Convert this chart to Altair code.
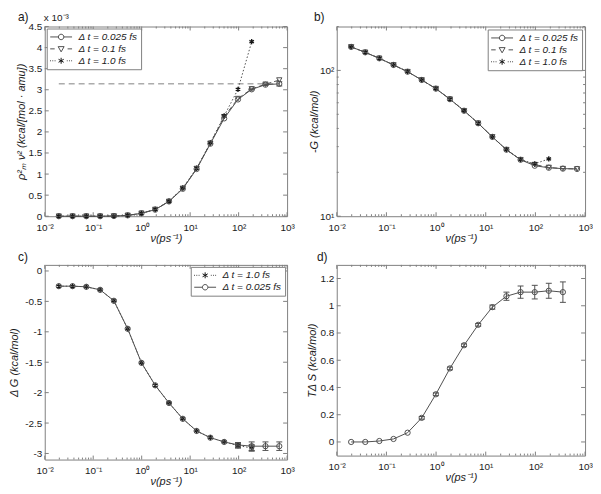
import altair as alt
import pandas as pd

# ---------------- data ----------------
nu = [0.0195, 0.0375, 0.072, 0.139, 0.267, 0.514, 0.99, 1.9, 3.66, 7.05,
      13.6, 26.1, 50.3, 97, 186, 358, 690]

# a) rho_m^2 nu^2  (x 1e-3)
a_circ = [0, 0, 0, 0, 0.005, 0.02, 0.07, 0.155, 0.35, 0.65, 1.12, 1.72, 2.32, 2.77, 3.01, 3.12, 3.14]
a_circ_err = [0, 0, 0, 0, 0, 0, 0, 0, 0, 0, 0, 0, 0, 0, 0.01, 0.02, 0.05]
a_tri = [0, 0, 0, 0, 0.005, 0.02, 0.07, 0.16, 0.35, 0.66, 1.13, 1.73, 2.36, 2.79, 3.02, 3.13, 3.23]
a_star = [0, 0, 0, 0, 0.005, 0.02, 0.07, 0.16, 0.36, 0.67, 1.14, 1.74, 2.38, 3.01, 4.14]
a_ref = 3.14

# b) -G
b_circ = [145, 133, 121, 109, 98, 86, 75, 63.5, 52.9, 43.4, 35.0, 28.6, 24.4, 22.2, 21.5, 21.2, 21.1]
b_tri = [145, 133, 121, 109, 98, 86, 75, 63.5, 52.9, 43.4, 35.0, 28.6, 24.4, 22.6, 21.6, 21.2, 21.1]
b_star = [145, 133, 121, 109, 98, 86, 75, 63.5, 52.9, 43.4, 35.0, 28.6, 24.4, 22.9, 24.7]

# c) Delta G
c_circ = [-0.25, -0.25, -0.26, -0.31, -0.49, -0.95, -1.51, -1.88, -2.17, -2.43, -2.63, -2.74,
          -2.81, -2.86, -2.88, -2.88, -2.88]
c_circ_err = [0, 0, 0, 0, 0, 0, 0, 0, 0, 0, 0, 0, 0, 0.04, 0.07, 0.07, 0.07]
c_star = [-0.25, -0.25, -0.26, -0.31, -0.49, -0.95, -1.51, -1.88, -2.17, -2.43, -2.63, -2.74,
          -2.81, -2.87, -2.91]
c_star_err = [0, 0, 0, 0, 0, 0, 0, 0, 0, 0, 0, 0, 0, 0.04, 0.05]

# d) T Delta S
d_circ = [0, 0, 0.007, 0.022, 0.068, 0.177, 0.35, 0.54, 0.71, 0.86, 0.99, 1.07, 1.10, 1.10, 1.11, 1.10]
d_circ_err = [0, 0, 0, 0, 0, 0.01, 0.01, 0.01, 0.01, 0.01, 0.015, 0.03, 0.045, 0.05, 0.055, 0.075]

lab025 = "Δ t = 0.025 fs"
lab01 = "Δ t = 0.1 fs"
lab10 = "Δ t = 1.0 fs"

# ---------------- styles ----------------
FR = "#808080"
LC = "#505050"
SC = "#141414"
TXT = "#1a1a1a"
STAR = "M0,-1L0,1M-0.87,-0.5L0.87,0.5M-0.87,0.5L0.87,-0.5"

LEG_CIRC = "M-1,0L0.65,0M1.75,0L3.4,0M0.65,0A0.55,0.55,0,1,0,1.75,0A0.55,0.55,0,1,0,0.65,0"
LEG_TRI = "M-1,0L-0.1,0M2.5,0L3.4,0M0.6,-0.45L1.8,-0.45L1.2,0.6Z"
LEG_STAR = ("M-1,0L-0.85,0M-0.55,0L-0.4,0M-0.1,0L0.05,0M2.35,0L2.5,0M2.8,0L2.95,0M3.25,0L3.4,0"
            "M1.2,-0.6L1.2,0.6M0.68,-0.3L1.72,0.3M0.68,0.3L1.72,-0.3")

X_MAJOR = [0.01, 0.1, 1, 10, 100, 1000]
X_MINOR = [m * 10.0 ** k for k in range(-2, 3) for m in range(2, 10)]

XLAB = ("datum.value < 0.05 ? '10⁻²' : datum.value < 0.5 ? '10⁻¹' : datum.value < 5 ? '10⁰' : "
        "datum.value < 50 ? '10¹' : datum.value < 500 ? '10²' : '10³'")

XS = alt.Scale(type="log", domain=[0.01, 1000], nice=False)
XAX = alt.Axis(values=X_MAJOR, labelExpr=XLAB, ticks=False, domain=False, grid=False,
               labelFlush=False, labelOverlap=False, labelPadding=6, labelFontSize=10,
               labelColor=TXT, title="ν(ps⁻¹)", titleFontSize=11, titleFontWeight="normal",
               titleFontStyle="italic", titleColor=TXT, titlePadding=0)


def xe(f):
    return alt.X(f"{f}:Q", scale=XS, axis=XAX)


def make_yaxis(values, title, ext, tpad, fmt=None, expr=None):
    kw = dict(values=values, ticks=False, domain=False, grid=False, labelPadding=3,
              labelFontSize=10, labelColor=TXT, labelOverlap=False, minExtent=ext, maxExtent=ext,
              title=title, titleFontSize=11, titleFontWeight="normal", titleFontStyle="italic",
              titleColor=TXT, titlePadding=tpad)
    if fmt:
        kw["format"] = fmt
    if expr:
        kw["labelExpr"] = expr
    return alt.Axis(**kw)


def series(xs, ys, kind, ye):
    df = pd.DataFrame({"x": xs[:len(ys)], "y": ys})
    base = alt.Chart(df).encode(x=xe("x"), y=ye("y"))
    if kind == "circ":
        return [base.mark_line(color=LC, strokeWidth=1),
                base.mark_point(shape="circle", filled=False, size=28, color=LC, strokeWidth=1, opacity=1)]
    if kind == "tri":
        return [base.mark_line(color=LC, strokeWidth=1, strokeDash=[5, 3]),
                base.mark_point(shape="triangle-down", filled=False, size=28, color=LC, strokeWidth=1, opacity=1)]
    if kind == "star":
        return [base.mark_line(color=LC, strokeWidth=1, strokeDash=[1.5, 2]),
                base.mark_point(shape=STAR, filled=False, size=28, color=SC, strokeWidth=1.3, opacity=1)]
    if kind == "ref":
        return [base.mark_line(color=FR, strokeWidth=1, strokeDash=[6, 4])]
    return []


def errbars(xs, ys, es, ye, color):
    rows = [(x, y - e, y + e) for x, y, e in zip(xs, ys, es) if e > 0]
    df = pd.DataFrame(rows, columns=["x", "lo", "hi"])
    r = alt.Chart(df).mark_rule(color=color, strokeWidth=1).encode(
        x=xe("x"), y=ye("lo"), y2=alt.Y2("hi:Q"))
    t1 = alt.Chart(df).mark_tick(orient="horizontal", size=6, thickness=1, color=color, opacity=1).encode(
        x=xe("x"), y=ye("lo"))
    t2 = alt.Chart(df).mark_tick(orient="horizontal", size=6, thickness=1, color=color, opacity=1).encode(
        x=xe("x"), y=ye("hi"))
    return [r, t1, t2]


def tick_layers(W, H, ye, ymaj, ymin):
    out = []
    for vals, ln in ((X_MAJOR, 4), (X_MINOR, 2)):
        df = pd.DataFrame({"v": vals})
        out.append(alt.Chart(df).mark_rule(color=FR, strokeWidth=1).encode(
            x=xe("v"), y=alt.value(H), y2=alt.value(H - ln)))
        out.append(alt.Chart(df).mark_rule(color=FR, strokeWidth=1).encode(
            x=xe("v"), y=alt.value(0), y2=alt.value(ln)))
    for vals, ln in ((ymaj, 4), (ymin, 2)):
        if not vals:
            continue
        df = pd.DataFrame({"v": vals})
        out.append(alt.Chart(df).mark_rule(color=FR, strokeWidth=1).encode(
            y=ye("v"), x=alt.value(0), x2=alt.value(ln)))
        out.append(alt.Chart(df).mark_rule(color=FR, strokeWidth=1).encode(
            y=ye("v"), x=alt.value(W), x2=alt.value(W - ln)))
    return out


def legend_layer(field, labels, paths, colors, orient, offset, lab_off):
    lg = alt.Legend(title=None, orient=orient, offset=offset, fillColor="white", strokeColor=FR,
                    padding=3, rowPadding=1, symbolSize=100, symbolStrokeWidth=1,
                    labelFontSize=10, labelFontStyle="italic", labelColor=TXT, labelOffset=lab_off)
    df = pd.DataFrame({field: labels})
    return alt.Chart(df).transform_filter("false").mark_point(filled=False, opacity=1).encode(
        shape=alt.Shape(f"{field}:N", scale=alt.Scale(domain=labels, range=paths), legend=lg),
        color=alt.Color(f"{field}:N", scale=alt.Scale(domain=labels, range=colors), legend=lg))


def text_layer(t, dx, dy, size):
    df = pd.DataFrame({"t": [t]})
    return alt.Chart(df).mark_text(align="left", baseline="alphabetic", fontSize=size, color=TXT).encode(
        text="t:N", x=alt.value(dx), y=alt.value(dy))


# ---------------- panel a ----------------
Wa, Ha = 244, 191
ysa = alt.Scale(domain=[0, 4.5], nice=False, zero=False)
yaa = make_yaxis([0, 0.5, 1, 1.5, 2, 2.5, 3, 3.5, 4, 4.5], "ρ²ₘ ν² (kcal/[mol · amu])", 17, 1.5, fmt="~g")
yea = lambda f: alt.Y(f"{f}:Q", scale=ysa, axis=yaa)
la = tick_layers(Wa, Ha, yea, [0, 0.5, 1, 1.5, 2, 2.5, 3, 3.5, 4, 4.5], [])
la += series([nu[0], nu[-1]], [a_ref, a_ref], "ref", yea)
la += series(nu, a_tri, "tri", yea)
la += series(nu, a_star, "star", yea)
la += series(nu, a_circ, "circ", yea)
la += errbars(nu, a_circ, a_circ_err, yea, LC)
la.append(legend_layer("la", [lab025, lab01, lab10], [LEG_CIRC, LEG_TRI, LEG_STAR],
                       [LC, LC, SC], "top-left", 2, 18))
la.append(text_layer("a)", -27, -6, 12))
la.append(text_layer("x 10⁻³", -1, -6, 10))
pa = alt.layer(*la).properties(width=Wa, height=Ha)

# ---------------- panel b ----------------
Wb, Hb = 250, 191
ysb = alt.Scale(type="log", domain=[10, 200], nice=False)
yab = make_yaxis([10, 100], "-G (kcal/mol)", 15, 2.5, expr="datum.value < 50 ? '10¹' : '10²'")
yeb = lambda f: alt.Y(f"{f}:Q", scale=ysb, axis=yab)
lb = tick_layers(Wb, Hb, yeb, [10, 100], [20, 30, 40, 50, 60, 70, 80, 90, 200])
lb += series(nu, b_tri, "tri", yeb)
lb += series(nu, b_star, "star", yeb)
lb += series(nu, b_circ, "circ", yeb)
lb.append(legend_layer("lb", [lab025, lab01, lab10], [LEG_CIRC, LEG_TRI, LEG_STAR],
                       [LC, LC, SC], "top-right", 3, 18))
lb.append(text_layer("b)", -23, -6, 12))
pb = alt.layer(*lb).properties(width=Wb, height=Hb)

# ---------------- panel c ----------------
Wc, Hc = 244, 196
ysc = alt.Scale(domain=[-3.1, 0.1], nice=False, zero=False)
yac = make_yaxis([0, -0.5, -1, -1.5, -2, -2.5, -3], "Δ G (kcal/mol)", 22, 3.5, fmt="~g",
                 expr="replace(datum.label, '−', '-')")
yec = lambda f: alt.Y(f"{f}:Q", scale=ysc, axis=yac)
lc = tick_layers(Wc, Hc, yec, [0, -0.5, -1, -1.5, -2, -2.5, -3], [])
lc += series(nu, c_star, "star", yec)
lc += errbars(nu, c_star, c_star_err, yec, SC)
lc += series(nu, c_circ, "circ", yec)
lc += errbars(nu, c_circ, c_circ_err, yec, LC)
lc.append(legend_layer("lc", [lab10, lab025], [LEG_STAR, LEG_CIRC], [SC, LC], "top-right", 2, 18))
lc.append(text_layer("c)", -27, -4, 12))
pc = alt.layer(*lc).properties(width=Wc, height=Hc)

# ---------------- panel d ----------------
Wd, Hd = 250, 192
ysd = alt.Scale(domain=[-0.1, 1.3], nice=False, zero=False)
yad = make_yaxis([0, 0.2, 0.4, 0.6, 0.8, 1, 1.2], "TΔ S (kcal/mol)", 17, 2.5, fmt="~g")
yed = lambda f: alt.Y(f"{f}:Q", scale=ysd, axis=yad)
ld = tick_layers(Wd, Hd, yed, [0, 0.2, 0.4, 0.6, 0.8, 1, 1.2], [])
ld += series(nu, d_circ, "circ", yed)
ld += errbars(nu, d_circ, d_circ_err, yed, LC)
ld.append(text_layer("d)", -20, -4, 12))
pd_ = alt.layer(*ld).properties(width=Wd, height=Hd)

chart = alt.ConcatChart(
    concat=[pa, pb, pc, pd_], columns=2, spacing={"row": 49, "column": 50},
    bounds="flush", align="each"
).resolve_scale(shape="independent", color="independent").resolve_legend(
    shape="independent", color="independent"
).properties(padding=0).configure(font="Liberation Sans").configure_view(stroke=FR, strokeWidth=1)

chart.save("out.html", embed_options={"renderer": "svg", "actions": False})
